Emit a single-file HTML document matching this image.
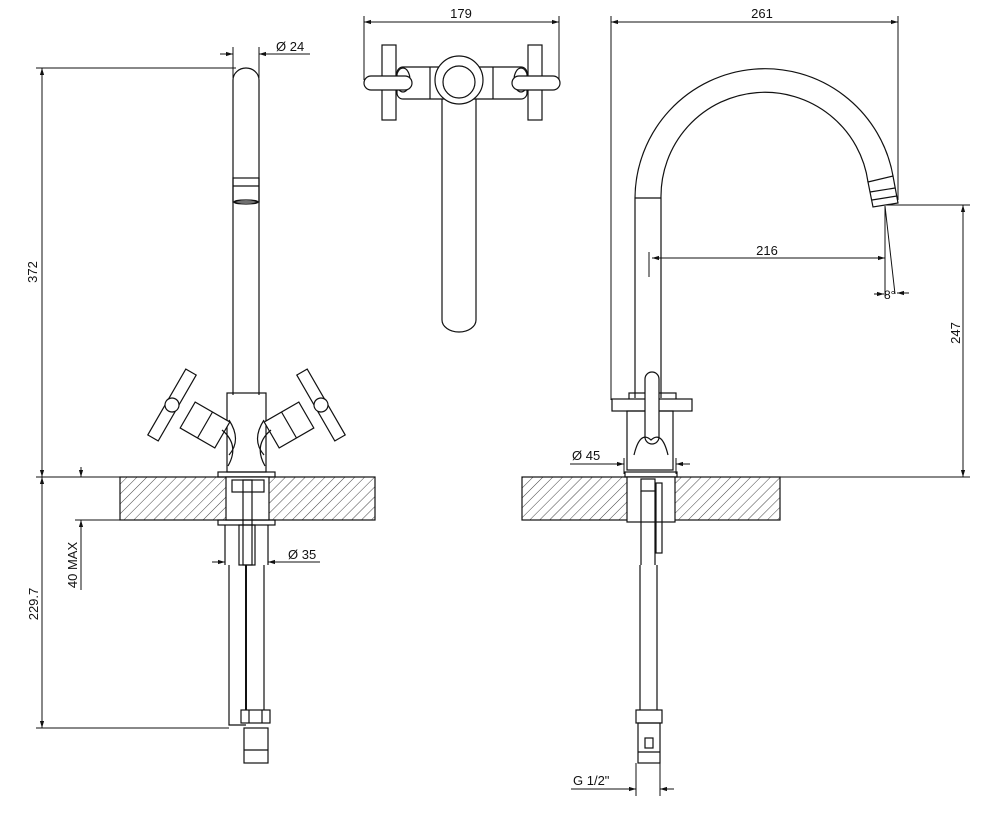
<!DOCTYPE html>
<html><head><meta charset="utf-8"><style>
html,body{margin:0;padding:0;background:#fff;}
svg{display:block;}
text{font-family:"Liberation Sans",sans-serif;font-size:13px;fill:#111;}
</style></head><body>
<svg width="1000" height="818" viewBox="0 0 1000 818" xmlns="http://www.w3.org/2000/svg">
<defs>
<pattern id="h" patternUnits="userSpaceOnUse" width="7" height="7" patternTransform="rotate(45)">
<line x1="0" y1="0" x2="0" y2="7" stroke="#444" stroke-width="1"/>
</pattern>
<marker id="a" viewBox="0 0 10 10" refX="10" refY="5" markerWidth="12" markerHeight="7" orient="auto-start-reverse">
<path d="M0,2 L10,5 L0,8 z" fill="#111"/></marker>
</defs>
<g fill="none" stroke="#111" stroke-width="1.2">

<!-- LEFT VIEW -->
<path d="M233,395 V80 A13,12 0 0 1 259,80 V395"/>
<rect x="233" y="178" width="26" height="24"/>
<line x1="233" y1="186" x2="259" y2="186"/>
<ellipse cx="246" cy="202" rx="12" ry="2"/>
<rect x="227" y="393" width="39" height="79"/>
<path d="M229,420 Q242,440 229,455"/>
<path d="M264,420 Q251,440 264,455"/>
<g transform="translate(205,425) rotate(30)"><rect x="-20" y="-15" width="40" height="30" fill="#fff"/><line x1="0" y1="-15" x2="0" y2="15"/></g>
<path d="M222,430 Q240,445 228,466"/>
<g transform="translate(172,405) rotate(30)"><rect x="-6" y="-38" width="12" height="76" fill="#fff"/><circle cx="0" cy="0" r="7" fill="#fff"/></g>
<g transform="translate(289,425) rotate(-30)"><rect x="-20" y="-15" width="40" height="30" fill="#fff"/><line x1="0" y1="-15" x2="0" y2="15"/></g>
<path d="M271,430 Q253,445 265,466"/>
<g transform="translate(321,405) rotate(-30)"><rect x="-6" y="-38" width="12" height="76" fill="#fff"/><circle cx="0" cy="0" r="7" fill="#fff"/></g>
<rect x="218" y="472" width="57" height="5"/>
<rect x="120" y="477" width="255" height="43" fill="url(#h)"/>
<rect x="226" y="477" width="43" height="43" fill="#fff"/>
<rect x="232" y="480" width="32" height="12"/>
<rect x="243" y="480" width="9" height="85"/>
<rect x="218" y="520" width="57" height="5"/>
<line x1="225" y1="525" x2="225" y2="565"/><line x1="268" y1="525" x2="268" y2="565"/>
<rect x="239" y="525" width="16" height="40"/>
<path d="M229,565 V725 H246"/><path d="M264,565 V710"/>
<line x1="246" y1="565" x2="246" y2="710" stroke-width="2"/>
<rect x="241" y="710" width="29" height="13"/>
<line x1="249" y1="710" x2="249" y2="723"/><line x1="262" y1="710" x2="262" y2="723"/>
<rect x="244" y="728" width="24" height="35"/>
<line x1="244" y1="750" x2="268" y2="750"/>

<!-- MIDDLE TOP VIEW -->
<path d="M442,99 V320 A17,12 0 0 0 476,320 V99"/>
<rect x="382" y="45" width="14" height="75"/>
<rect x="528" y="45" width="14" height="75"/>
<rect x="397" y="67" width="130" height="32" rx="6"/>
<circle cx="459" cy="80" r="24" fill="#fff"/>
<circle cx="459" cy="82" r="16"/>
<ellipse cx="403" cy="80" rx="7" ry="12"/>
<ellipse cx="521" cy="80" rx="7" ry="12"/>
<line x1="430" y1="67" x2="430" y2="99"/><line x1="493" y1="67" x2="493" y2="99"/>
<rect x="364" y="76" width="48" height="14" rx="7" fill="#fff"/>
<rect x="512" y="76" width="48" height="14" rx="7" fill="#fff"/>

<!-- RIGHT VIEW -->
<path d="M635,398 V198 A130,130 0 0 1 893,176"/>
<path d="M661,398 V198 A104,104 0 0 1 868,182"/>
<line x1="635" y1="198" x2="661" y2="198"/>
<path d="M868,182 L873,207 L898,203 L893,176 Z"/>
<line x1="870" y1="192" x2="895" y2="188"/><line x1="872" y1="200" x2="897" y2="196"/>
<rect x="629" y="393" width="47" height="7"/>
<rect x="612" y="399" width="80" height="12" fill="#fff"/>
<rect x="627" y="411" width="46" height="59"/>
<rect x="645" y="372" width="14" height="72" rx="7" fill="#fff"/>
<path d="M634,455 Q640,430 651,440 Q662,430 668,455"/>
<rect x="625" y="472" width="52" height="5"/>
<rect x="522" y="477" width="258" height="43" fill="url(#h)"/>
<rect x="627" y="477" width="48" height="45" fill="#fff"/>
<rect x="641" y="479" width="14" height="12"/>
<line x1="641" y1="491" x2="641" y2="565"/><line x1="655" y1="491" x2="655" y2="565"/>
<rect x="656" y="483" width="6" height="70"/>
<path d="M640,565 V710 M657,565 V710"/>
<rect x="636" y="710" width="26" height="13"/>
<rect x="638" y="723" width="22" height="40"/>
<rect x="645" y="738" width="8" height="10"/>
<line x1="638" y1="752" x2="660" y2="752"/>
</g>

<!-- DIMENSIONS -->
<g stroke="#111" stroke-width="1" fill="none">
<line x1="42" y1="68" x2="42" y2="477" marker-start="url(#a)" marker-end="url(#a)"/>
<line x1="36" y1="68" x2="236" y2="68"/>
<line x1="36" y1="477" x2="120" y2="477"/>
<line x1="42" y1="477" x2="42" y2="728" marker-start="url(#a)" marker-end="url(#a)"/>
<line x1="36" y1="728" x2="229" y2="728"/>
<line x1="81" y1="467" x2="81" y2="477" marker-end="url(#a)"/>
<line x1="81" y1="530" x2="81" y2="520" marker-end="url(#a)"/>
<line x1="81" y1="530" x2="81" y2="590"/>
<line x1="75" y1="520" x2="120" y2="520"/>
<line x1="233" y1="47" x2="233" y2="78"/><line x1="259" y1="47" x2="259" y2="78"/>
<line x1="220" y1="54" x2="233" y2="54" marker-end="url(#a)"/>
<line x1="272" y1="54" x2="259" y2="54" marker-end="url(#a)"/>
<line x1="259" y1="54" x2="310" y2="54"/>
<line x1="212" y1="562" x2="225" y2="562" marker-end="url(#a)"/>
<line x1="282" y1="562" x2="268" y2="562" marker-end="url(#a)"/>
<line x1="268" y1="562" x2="320" y2="562"/>
<line x1="364" y1="16" x2="364" y2="80"/><line x1="559" y1="16" x2="559" y2="80"/>
<line x1="364" y1="22" x2="559" y2="22" marker-start="url(#a)" marker-end="url(#a)"/>
<line x1="611" y1="16" x2="611" y2="400"/><line x1="898" y1="16" x2="898" y2="200"/>
<line x1="611" y1="22" x2="898" y2="22" marker-start="url(#a)" marker-end="url(#a)"/>
<line x1="649" y1="252" x2="649" y2="277"/>
<line x1="652" y1="258" x2="885" y2="258" marker-start="url(#a)" marker-end="url(#a)"/>
<line x1="885" y1="206" x2="885" y2="296"/>
<line x1="885" y1="206" x2="895" y2="294"/>
<line x1="874" y1="294" x2="884" y2="294" marker-end="url(#a)"/>
<line x1="909" y1="293" x2="897" y2="293" marker-end="url(#a)"/>
<line x1="885" y1="205" x2="970" y2="205"/>
<line x1="700" y1="477" x2="970" y2="477"/>
<line x1="963" y1="205" x2="963" y2="477" marker-start="url(#a)" marker-end="url(#a)"/>
<line x1="624" y1="458" x2="624" y2="474"/><line x1="676" y1="458" x2="676" y2="474"/>
<line x1="570" y1="464" x2="624" y2="464"/>
<line x1="610" y1="464" x2="624" y2="464" marker-end="url(#a)"/>
<line x1="690" y1="464" x2="676" y2="464" marker-end="url(#a)"/>
<line x1="636" y1="763" x2="636" y2="796"/><line x1="660" y1="763" x2="660" y2="796"/>
<line x1="571" y1="789" x2="636" y2="789"/>
<line x1="622" y1="789" x2="636" y2="789" marker-end="url(#a)"/>
<line x1="674" y1="789" x2="660" y2="789" marker-end="url(#a)"/>
</g>
<text x="37" y="272" transform="rotate(-90 37 272)" text-anchor="middle">372</text>
<text x="38" y="604" transform="rotate(-90 38 604)" text-anchor="middle">229.7</text>
<text x="77" y="565" transform="rotate(-90 77 565)" text-anchor="middle">40 MAX</text>
<text x="276" y="51">Ø 24</text>
<text x="288" y="559">Ø 35</text>
<text x="461" y="18" text-anchor="middle">179</text>
<text x="762" y="18" text-anchor="middle">261</text>
<text x="767" y="255" text-anchor="middle">216</text>
<text x="884" y="299" style="font-size:12px">8°</text>
<text x="960" y="333" transform="rotate(-90 960 333)" text-anchor="middle">247</text>
<text x="572" y="460">Ø 45</text>
<text x="573" y="785">G 1/2"</text>
</svg>
</body></html>
